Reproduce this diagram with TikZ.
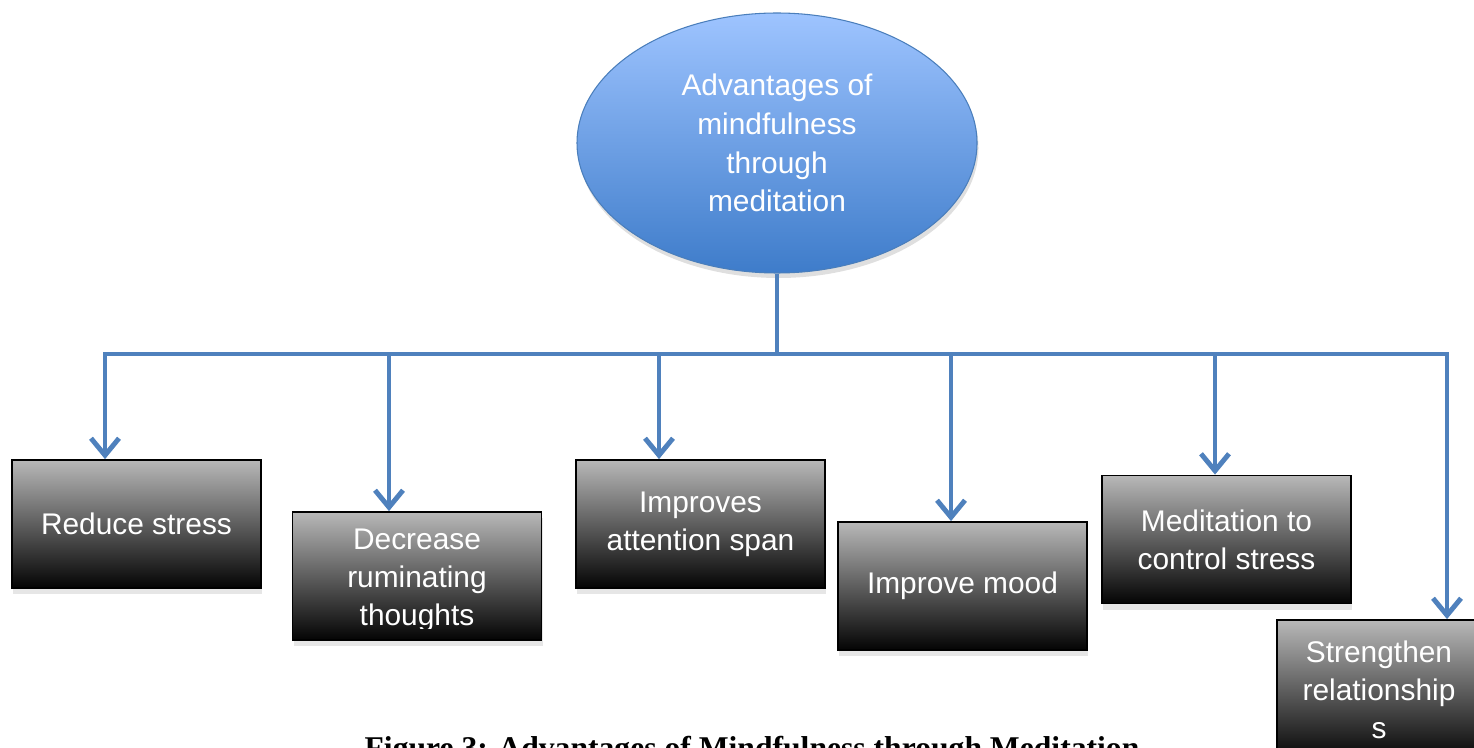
\documentclass[tikz,border=0pt]{standalone}
\usepackage{fontspec}
\setmainfont{Liberation Sans}
\newfontfamily\capfont{Liberation Serif}
\usepackage{tikz}
\usetikzlibrary{arrows.meta,shapes.geometric,shadows,calc}
\definecolor{linkblue}{RGB}{79,129,189}
\definecolor{hubtop}{RGB}{158,196,255}
\definecolor{hubbottom}{RGB}{62,124,202}
\definecolor{hubline}{RGB}{74,126,187}
\definecolor{boxtop}{RGB}{184,184,184}
\definecolor{boxmid}{RGB}{112,112,112}
\definecolor{boxbottom}{RGB}{4,4,4}

\begin{document}
\begin{tikzpicture}[scale=1,>={Straight Barb[length=0.34cm,width=0.56cm]},
  hub/.style={ellipse,draw=hubline,line width=0.6pt,top color=hubtop,bottom color=hubbottom,
    minimum width=8cm,minimum height=5.2cm,inner sep=0pt,text=white,align=center,
    font=\fontsize{17}{22}\selectfont,
    drop shadow={opacity=0.25,shadow xshift=0.03cm,shadow yshift=-0.1cm}},
  benefit/.style={rectangle,draw=black,line width=1pt,top color=boxtop,middle color=boxmid,
    bottom color=boxbottom,minimum width=4.98cm,minimum height=2.56cm,inner sep=0pt,
    text=white,align=center,font=\fontsize{17}{21.6}\selectfont,
    drop shadow={opacity=0.2,shadow xshift=0.02cm,shadow yshift=-0.12cm}},
  boxtext/.style={text=white,align=center,font=\fontsize{17}{21.6}\selectfont},
  link/.style={draw=linkblue,line width=2.8pt}]
\useasboundingbox (0,0) rectangle (29.48,-14.96);
% nodo centrale: ellisse blu
\node[hub] (hub) at (15.54,-2.86) {Advantages of\\mindfulness\\through\\meditation};
% riquadri dei vantaggi
\node[benefit] (rs) at (2.73,-10.48) {Reduce stress};
\node[benefit] (dr) at (8.34,-11.52) {};
\begin{scope}
\clip ($(dr.south west)+(0,0.24)$) rectangle (dr.north east);
\node[boxtext] (drtext) at ($(dr)+(0,-0.08)$) {Decrease\\ruminating\\thoughts};
\end{scope}
\node[benefit] (ia) at (14.01,-10.48) {Improves\\attention span};
\node[benefit] (im) at (19.25,-11.72) {Improve mood};
\node[benefit] (mc) at (24.53,-10.79) {Meditation to\\control stress};
\node[benefit,minimum width=4.08cm,minimum height=2.8cm] (rel) at (27.58,-13.8) {Strengthen\\relationship\\s};
% collegamenti: barra orizzontale e frecce
\coordinate (d1) at (2.1,-7.08);
\coordinate (d2) at (7.78,-7.08);
\coordinate (d3) at (13.18,-7.08);
\coordinate (d4) at (19.02,-7.08);
\coordinate (d5) at (24.3,-7.08);
\coordinate (d6) at (28.94,-7.08);
\draw[link] (hub.south) -- (hub.south |- d1);
\draw[link,<->] (d1 |- rs.north) -- (d1) -- (d6) -- (d6 |- rel.north);
\foreach \d/\b in {d2/dr,d3/ia,d4/im,d5/mc}
  \draw[link,->] (\d) -- (\d |- \b.north);
% didascalia
\node[font=\capfont\bfseries\fontsize{18}{20}\selectfont,anchor=base] (cap) at (15.04,-15.16)
  {Figure 3: Advantages of Mindfulness through Meditation};
\end{tikzpicture}
\end{document}
